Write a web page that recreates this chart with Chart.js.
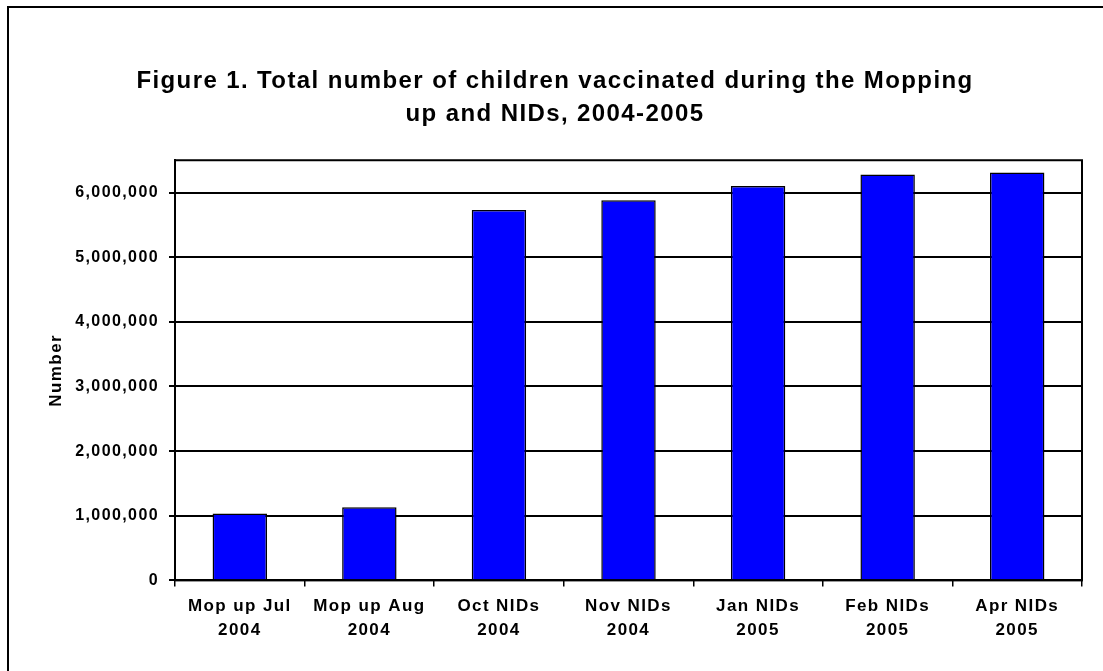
<!DOCTYPE html>
<html>
<head>
<meta charset="utf-8">
<script src="https://cdn.jsdelivr.net/npm/chart.js@4"></script>
<style>
    body { margin: 0; background: #fff; }
    #wrap { width: 1103px; height: 671px; }
</style>
</head>
<body>
<div id="wrap"><canvas id="vacc-chart"></canvas></div>
<script>
const campaigns = [
    ["Mop up Jul", "2004"],
    ["Mop up Aug", "2004"],
    ["Oct NIDs", "2004"],
    ["Nov NIDs", "2004"],
    ["Jan NIDs", "2005"],
    ["Feb NIDs", "2005"],
    ["Apr NIDs", "2005"]
];
const vaccinated = [1035000, 1130000, 5730000, 5880000, 6100000, 6280000, 6310000];
const yTicks = [0, 1000000, 2000000, 3000000, 4000000, 5000000, 6000000];

const fontFam = "'Liberation Sans', Arial, sans-serif";

// the excel text is a bit spread out
const spacingPlugin = {
    id: "spacing",
    beforeLayout: (chart) => { chart.ctx.letterSpacing = "1.4px"; },
    beforeDraw: (chart) => { chart.ctx.letterSpacing = "1.4px"; }
};

// box round the plot area + outer frame
const framePlugin = {
    id: "frames",
    afterDraw: (chart) => {
        const ctx = chart.ctx;
        const a = chart.chartArea;
        ctx.save();
        ctx.strokeStyle = "#000";
        ctx.lineWidth = 2;
        ctx.strokeRect(a.left, a.top, a.right - a.left, a.bottom - a.top);
        ctx.strokeRect(8, 7, 2000, 2000);
        ctx.restore();
    }
};

const vaccGraph = new Chart(
    document.getElementById("vacc-chart"), {
        type: "bar",
        data: {
            labels: campaigns,
            datasets: [{
                label: "Children vaccinated",
                data: vaccinated,
                backgroundColor: "#0000ff",
                borderColor: "#000",
                borderWidth: 1.5,
                barPercentage: 0.42,
                categoryPercentage: 1
            }]
        },
        options: {
            responsive: true,
            maintainAspectRatio: false,
            animation: false,
            layout: { padding: { left: 28, right: 21, top: 0, bottom: 21 } },
            plugins: {
                legend: { display: false },
                tooltip: { enabled: false },
                title: {
                    display: true,
                    text: ["Figure 1. Total number of children vaccinated during the Mopping", "up and NIDs, 2004-2005"],
                    color: "#000",
                    font: { family: fontFam, size: 24, weight: "bold", lineHeight: 1.38 },
                    padding: { top: 65, bottom: 29 }
                }
            },
            scales: {
                x: {
                    grid: { drawOnChartArea: false, color: "#000", lineWidth: 1.5, tickLength: 6 },
                    border: { color: "#000", width: 2 },
                    ticks: {
                        color: "#000",
                        autoSkip: false,
                        maxRotation: 0,
                        padding: 8,
                        font: { family: fontFam, size: 17, weight: "bold", lineHeight: 1.4 }
                    }
                },
                y: {
                    min: 0,
                    max: 6500000,
                    afterFit: (scale) => { scale.width = 147; },
                    afterBuildTicks: (scale) => {
                        scale.ticks = yTicks.map(v => ({ value: v }));
                    },
                    grid: { color: "#000", lineWidth: 2, tickLength: 6 },
                    border: { color: "#000", width: 2 },
                    ticks: {
                        color: "#000",
                        padding: 10,
                        font: { family: fontFam, size: 16, weight: "bold" },
                        callback: (v) => v.toLocaleString("en-US")
                    },
                    title: {
                        display: true,
                        text: "Number",
                        color: "#000",
                        font: { family: fontFam, size: 17, weight: "bold" },
                        padding: { top: 18, bottom: 0 }
                    }
                }
            }
        },
        plugins: [spacingPlugin, framePlugin]
    }
);
</script>
</body>
</html>
